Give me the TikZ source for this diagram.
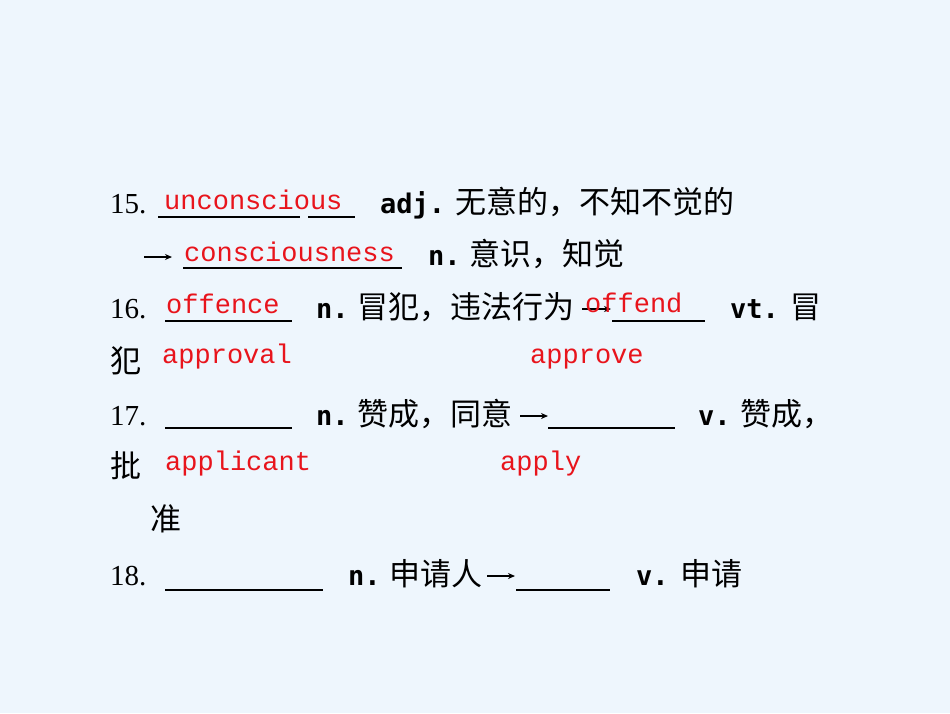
\documentclass[tikz,border=0pt]{standalone}
\usepackage{fontspec}
\setmainfont{Liberation Serif}
\newfontfamily\cjk{Noto Sans CJK SC}
\newfontfamily\lab{DejaVu Sans Mono}
\newfontfamily\ans{Liberation Mono}
\usetikzlibrary{arrows.meta}
\definecolor{bg}{HTML}{EEF6FD}
\definecolor{ansred}{HTML}{E8141C}
\begin{document}
\begin{tikzpicture}[x=1pt,y=-1pt,
  t/.style={anchor=base west,inner sep=0pt,font=\fontsize{29}{30}\selectfont},
  zh/.style={t,font=\fontsize{31}{32}\selectfont\cjk},
  wpos/.style={t,font=\fontsize{27}{30}\selectfont\lab\bfseries},
  ans/.style={t,text=ansred,font=\fontsize{27}{30}\selectfont\ans},
  ul/.style={line width=1.2pt},
  arr/.style={line width=1.2pt,-{Stealth[length=7pt,width=6pt]}}]
\fill[bg] (0,0) rectangle (950,713);
\useasboundingbox (0,0) rectangle (950,713);
% line 15
\node[t] (n15) at (110,213) {15.};
\draw[ul] (158,217) coordinate (u1a) -- (300,217) coordinate (u1b);
\draw[ul] (308,217) coordinate (u1c) -- (355,217) coordinate (u1d);
\node[ans] (a1) at (164,209) {unconscious};
\node[wpos] (p1) at (380,213) {adj.};
\node[zh] (z1) at (455,213) {无意的，不知不觉的};
% line 2
\coordinate (r2a) at (144,257); \coordinate (r2b) at (172,257);
\draw[arr] (r2a) -- (r2b);
\draw[ul] (183,268) coordinate (u2a) -- (402,268) coordinate (u2b);
\node[ans] (a2) at (184,261) {consciousness};
\node[wpos] (p2) at (428,265) {n.};
\node[zh] (z2) at (469,265) {意识，知觉};
% line 16
\node[t] (n16) at (110,318) {16.};
\draw[ul] (165,321) coordinate (u3a) -- (292,321) coordinate (u3b);
\node[ans] (a3) at (166,313) {offence};
\node[wpos] (p3) at (316,318) {n.};
\node[zh] (z3) at (357,318) {冒犯，违法行为};
\coordinate (r3a) at (582,309); \coordinate (r3b) at (611,309);
\draw[arr] (r3a) -- (r3b);
\draw[ul] (612,321) coordinate (u3c) -- (705,321) coordinate (u3d);
\node[ans] (a4) at (585,312) {offend};
\node[wpos] (p4) at (730,318) {vt.};
\node[zh] (z4) at (790,318) {冒};
\node[zh] (z5) at (110,372) {犯};
\node[ans] (a5) at (162,363) {approval};
\node[ans] (a6) at (530,363) {approve};
% line 17
\node[t] (n17) at (110,425) {17.};
\draw[ul] (165,428) coordinate (u4a) -- (292,428) coordinate (u4b);
\node[wpos] (p5) at (316,425) {n.};
\node[zh] (z6) at (357,425) {赞成，同意};
\coordinate (r4a) at (520,416); \coordinate (r4b) at (548,416);
\draw[arr] (r4a) -- (r4b);
\draw[ul] (548,428) coordinate (u4c) -- (675,428) coordinate (u4d);
\node[wpos] (p6) at (698,425) {v.};
\node[zh] (z7) at (740,425) {赞成，};
\node[zh] (z8) at (110,477) {批};
\node[ans] (a7) at (165,470) {applicant};
\node[ans] (a8) at (500,470) {apply};
\node[zh] (z9) at (150,530) {准};
% line 18
\node[t] (n18) at (110,585) {18.};
\draw[ul] (165,590) coordinate (u5a) -- (323,590) coordinate (u5b);
\node[wpos] (p7) at (348,585) {n.};
\node[zh] (z10) at (389,585) {申请人};
\coordinate (r5a) at (487,576); \coordinate (r5b) at (515,576);
\draw[arr] (r5a) -- (r5b);
\draw[ul] (516,590) coordinate (u5c) -- (610,590) coordinate (u5d);
\node[wpos] (p8) at (636,585) {v.};
\node[zh] (z11) at (680,585) {申请};
\end{tikzpicture}
\end{document}
